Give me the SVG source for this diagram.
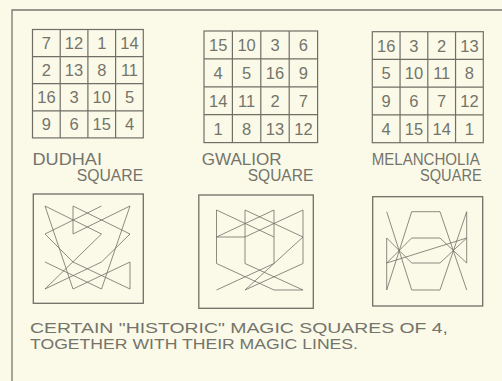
<svg xmlns="http://www.w3.org/2000/svg" width="502" height="381" viewBox="0 0 502 381">
<style>
.bg{fill:#fbfae9}
.frame{fill:none;stroke:#77776e;stroke-width:1.3}
.grid{fill:none;stroke:#6f6f66;stroke-width:1.2}
.box{fill:none;stroke:#6f6f66;stroke-width:1.3}
.ml{fill:none;stroke:#6f6f66;stroke-width:0.8;stroke-linejoin:miter}
.num{font-family:"Liberation Sans",Arial,sans-serif;font-size:16.5px;fill:#74746b;text-anchor:middle}
.lbl{font-family:"Liberation Sans",Arial,sans-serif;font-size:16px;fill:#74746b}
.cap{font-family:"Liberation Sans",Arial,sans-serif;font-size:15.5px;fill:#74746b}
</style>
<rect class="bg" x="0" y="0" width="502" height="381"/>
<path class="frame" d="M12,381 V10 H502"/>

<g id="dudhai-square">
<rect class="grid" x="32.5" y="29.5" width="110.8" height="108.4"/>
<path class="grid" d="M60.2,29.5V137.9M87.9,29.5V137.9M115.6,29.5V137.9M32.5,56.6H143.3M32.5,83.7H143.3M32.5,110.8H143.3"/>
<g class="num">
<text x="46.4" y="49">7</text><text x="74" y="49">12</text><text x="101.8" y="49">1</text><text x="129.5" y="49">14</text>
<text x="46.4" y="76.1">2</text><text x="74" y="76.1">13</text><text x="101.8" y="76.1">8</text><text x="129.5" y="76.1">11</text>
<text x="46.4" y="103.2">16</text><text x="74" y="103.2">3</text><text x="101.8" y="103.2">10</text><text x="129.5" y="103.2">5</text>
<text x="46.4" y="130.3">9</text><text x="74" y="130.3">6</text><text x="101.8" y="130.3">15</text><text x="129.5" y="130.3">4</text>
</g>
<text class="lbl" x="32.5" y="164.7" textLength="69.5" lengthAdjust="spacingAndGlyphs">DUDHAI</text>
<text class="lbl" x="76.7" y="180.7" textLength="66.5" lengthAdjust="spacingAndGlyphs">SQUARE</text>
</g>

<g id="gwalior-square">
<rect class="grid" x="204" y="31" width="113.6" height="111.6"/>
<path class="grid" d="M232.4,31V142.6M260.8,31V142.6M289.2,31V142.6M204,58.9H317.6M204,86.8H317.6M204,114.7H317.6"/>
<g class="num">
<text x="218.2" y="50.9">15</text><text x="246.6" y="50.9">10</text><text x="275" y="50.9">3</text><text x="303.4" y="50.9">6</text>
<text x="218.2" y="78.8">4</text><text x="246.6" y="78.8">5</text><text x="275" y="78.8">16</text><text x="303.4" y="78.8">9</text>
<text x="218.2" y="106.7">14</text><text x="246.6" y="106.7">11</text><text x="275" y="106.7">2</text><text x="303.4" y="106.7">7</text>
<text x="218.2" y="134.6">1</text><text x="246.6" y="134.6">8</text><text x="275" y="134.6">13</text><text x="303.4" y="134.6">12</text>
</g>
<text class="lbl" x="201.7" y="165" textLength="80" lengthAdjust="spacingAndGlyphs">GWALIOR</text>
<text class="lbl" x="247.7" y="181" textLength="65.6" lengthAdjust="spacingAndGlyphs">SQUARE</text>
</g>

<g id="melancholia-square">
<rect class="grid" x="372.3" y="31.7" width="111" height="111"/>
<path class="grid" d="M400.05,31.7V142.7M427.8,31.7V142.7M455.55,31.7V142.7M372.3,59.45H483.3M372.3,87.2H483.3M372.3,114.95H483.3"/>
<g class="num">
<text x="386.2" y="51.5">16</text><text x="413.9" y="51.5">3</text><text x="441.7" y="51.5">2</text><text x="469.4" y="51.5">13</text>
<text x="386.2" y="79.2">5</text><text x="413.9" y="79.2">10</text><text x="441.7" y="79.2">11</text><text x="469.4" y="79.2">8</text>
<text x="386.2" y="107">9</text><text x="413.9" y="107">6</text><text x="441.7" y="107">7</text><text x="469.4" y="107">12</text>
<text x="386.2" y="134.7">4</text><text x="413.9" y="134.7">15</text><text x="441.7" y="134.7">14</text><text x="469.4" y="134.7">1</text>
</g>
<text class="lbl" x="371.7" y="165" textLength="108" lengthAdjust="spacingAndGlyphs">MELANCHOLIA</text>
<text class="lbl" x="420" y="181" textLength="61.7" lengthAdjust="spacingAndGlyphs">SQUARE</text>
</g>

<g id="dudhai-lines">
<rect class="box" x="33.3" y="194" width="110" height="109.3"/>
</g>
<g id="gwalior-lines">
<rect class="box" x="198.8" y="195" width="114.5" height="113.3"/>
</g>
<g id="melancholia-lines">
<rect class="box" x="372.7" y="196.7" width="110" height="109.3"/>
</g>

<g id="connectors">
<polyline class="ml" points="101.5,206 45,234 73,262 130,289 130,262 73,289 45,206 101.5,234 45,289 101.5,262 130,234 73,206 73,234 130,206 101.5,289 45,262"/>
<polyline class="ml" points="216.5,290 274,263.5 274,210 216.5,237 245,237 303,210 303,263.5 245,290 303,237 245,210 245,263.5 303,290 274,290 216.5,263.5 216.5,210 274,237"/>
<polyline class="ml" points="466.7,290 440,211.7 411.7,211.7 386.7,290 386.7,238 411.7,263 440,263 466.7,238 386.7,263 411.7,238 440,238 466.7,263 466.7,211.7 440,290 411.7,290 386.7,211.7"/>
</g>

<g id="caption">
<text class="cap" x="30" y="333" textLength="418" lengthAdjust="spacingAndGlyphs">CERTAIN "HISTORIC" MAGIC SQUARES OF 4,</text>
<text class="cap" x="30" y="348.5" textLength="328" lengthAdjust="spacingAndGlyphs">TOGETHER WITH THEIR MAGIC LINES.</text>
</g>
</svg>
